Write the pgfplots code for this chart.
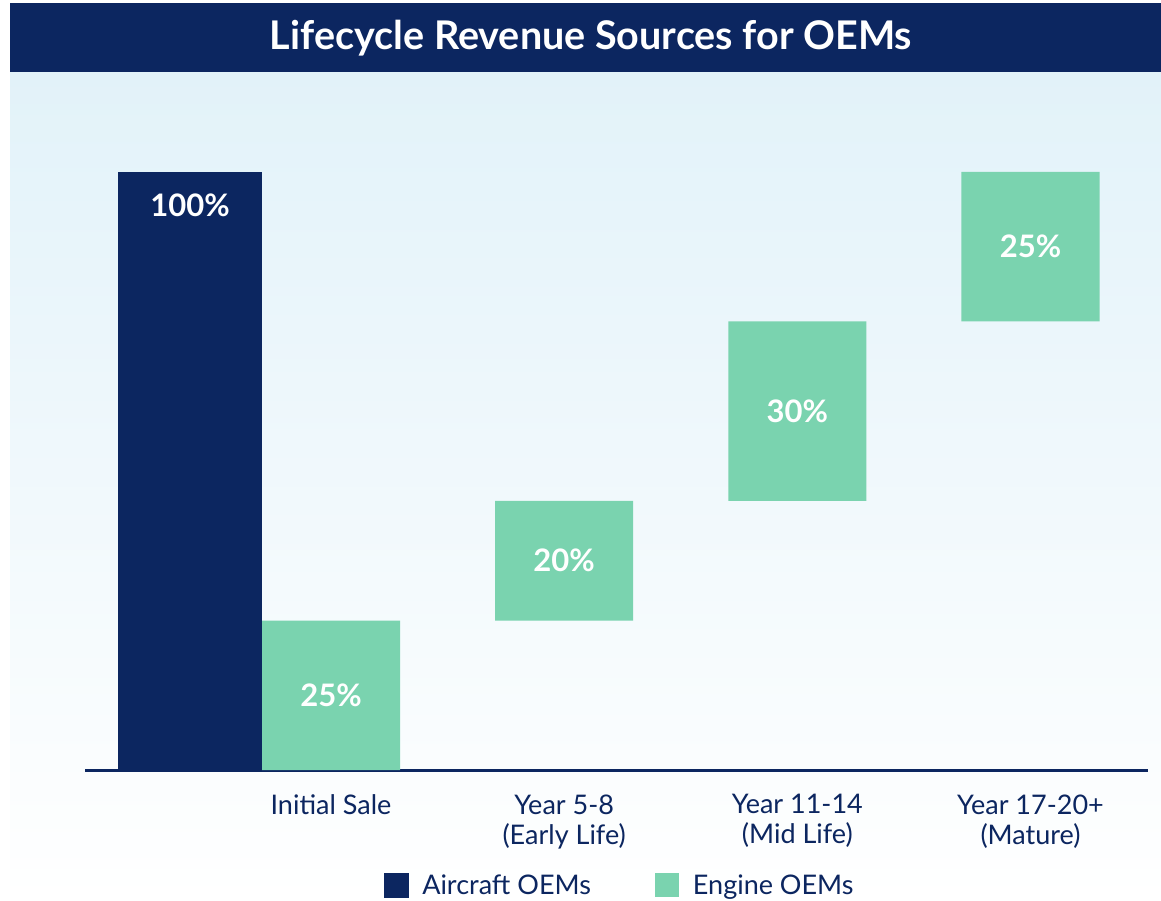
\documentclass[border=0pt]{standalone}
\usepackage{pgfplots}
\pgfplotsset{compat=1.18}
\usepackage{fontspec}
\setmainfont{Lato}
\definecolor{navy}{HTML}{0C2660}
\definecolor{mint}{HTML}{7AD3AF}
\definecolor{bgtop}{HTML}{E2F2F9}
\begin{document}
\begin{tikzpicture}[x=1pt,y=1pt]
\fill[white] (0,0) rectangle (1161,900);
\shade[top color=bgtop, bottom color=white] (10,0) rectangle (1161,828);
\fill[navy] (10,828) rectangle (1161,897);
\node[anchor=base, text=white, font=\fontsize{39.5}{42}\selectfont\bfseries] at (591,850) {Lifecycle Revenue Sources for OEMs};
\pgfplotsset{common/.style={
  at={(85pt,130pt)}, anchor=south west, scale only axis,
  width=1063pt, height=657.8pt,
  xmin=-1.055, xmax=3.504, ymin=0, ymax=110,
}}
% engine OEMs (floating stacked bars)
\begin{axis}[common, ybar stacked, bar width=0.592,
  axis x line=bottom, axis y line=none,
  x axis line style={navy, line width=3pt, -},
  xtick={0,1,2,3}, ytick=\empty,
  xticklabels={Initial Sale, {Year 5-8\\(Early Life)}, {Year 11-14\\(Mid Life)}, {Year 17-20+\\(Mature)}},
  xticklabel style={align=center, text=navy, font=\fontsize{27}{30}\selectfont, yshift=-21pt},
  major tick length=0pt, tick style={draw=none},
  legend style={at={(0.503,-0.175)}, anchor=center, draw=none, fill=none,
    legend columns=2, font=\fontsize{27}{31}\selectfont, text=navy,
    /tikz/every even column/.append style={column sep=62pt}},
]
\addlegendimage{legend image code/.code={\fill[navy] (0pt,-12pt) rectangle (24pt,12pt); \path (36pt,0pt);}}
\addlegendentry{Aircraft OEMs}
\addplot[draw=none, fill=none, forget plot] coordinates {(0,0) (1,25) (2,45) (3,75)};
\addplot[fill=mint, draw=none, legend image code/.code={\fill[mint] (0pt,-12pt) rectangle (24pt,12pt); \path (36pt,0pt);}] coordinates {(0,25) (1,20) (2,30) (3,25)};
\addlegendentry{Engine OEMs}
\end{axis}
% aircraft OEMs and value labels
\begin{axis}[common, hide axis]
\addplot[ybar, bar width=0.6176, fill=navy, draw=none] coordinates {(-0.6047,100)};
\addplot[draw=none, mark=none, nodes near coords, point meta=explicit symbolic,
  every node near coord/.style={anchor=center, text=white, font=\fontsize{31}{34}\selectfont\bfseries}]
  coordinates {(-0.6047,94.4)[100\%] (0,12.5)[25\%] (1,35)[20\%] (2,60)[30\%] (3,87.5)[25\%]};
\end{axis}
\pgfresetboundingbox
\useasboundingbox (0,0) rectangle (1161,900);
\end{tikzpicture}
\end{document}
